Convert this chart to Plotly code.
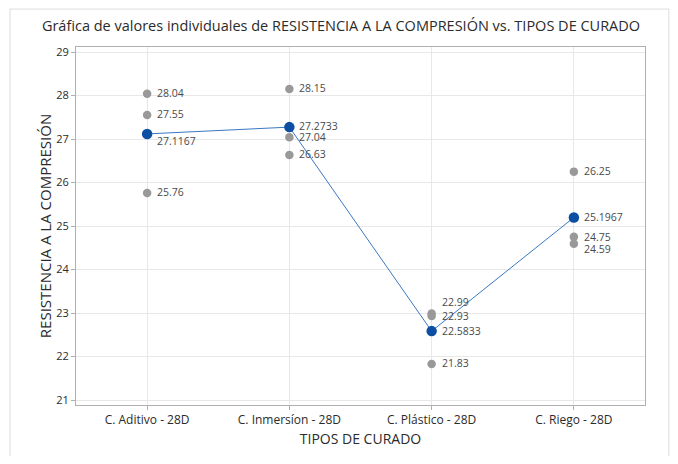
import plotly.graph_objects as go

categories = ["C. Aditivo - 28D", "C. Inmersíon - 28D", "C. Plástico - 28D", "C. Riego - 28D"]
individual_values = [
    [28.04, 27.55, 25.76],
    [28.15, 27.04, 26.63],
    [22.99, 22.93, 21.83],
    [26.25, 24.75, 24.59],
]
means = [27.1167, 27.2733, 22.5833, 25.1967]
mean_labels = ["27.1167", "27.2733", "22.5833", "25.1967"]
indiv_labels = [
    ["28.04", "27.55", "25.76"],
    ["28.15", "27.04", "26.63"],
    ["22.99", "22.93", "21.83"],
    ["26.25", "24.75", "24.59"],
]
y_ticks = [21, 22, 23, 24, 25, 26, 27, 28, 29]

# label pixel offsets (styling only)
indiv_shift = [[1, 1, 1], [1, 0, 1], [11, 0, 1], [1, 0, -5]]
mean_shift = [-7, 1, 0, 0]

FONT = "Open Sans"
fig = go.Figure()

xs, ys = [], []
for i, vals in enumerate(individual_values):
    for v in vals:
        xs.append(i)
        ys.append(v)
fig.add_trace(go.Scatter(x=xs, y=ys, mode="markers",
                         marker=dict(color="#999999", size=8.5),
                         showlegend=False, hoverinfo="y"))
fig.add_trace(go.Scatter(x=list(range(len(categories))), y=means, mode="lines+markers",
                         line=dict(color="#3A78C4", width=1),
                         marker=dict(color="#0B4EA2", size=10.5),
                         showlegend=False, hoverinfo="y"))

annotations = []
for i, vals in enumerate(individual_values):
    for j, v in enumerate(vals):
        annotations.append(dict(x=i, y=v, xref="x", yref="y", text=indiv_labels[i][j],
                                showarrow=False, xanchor="left", yanchor="middle",
                                xshift=8, yshift=indiv_shift[i][j],
                                font=dict(family=FONT, size=10.5, color="#4a4a4a")))
for i, m in enumerate(means):
    annotations.append(dict(x=i, y=m, xref="x", yref="y", text=mean_labels[i],
                            showarrow=False, xanchor="left", yanchor="middle",
                            xshift=8, yshift=mean_shift[i],
                            font=dict(family=FONT, size=10.5, color="#4a4a4a")))

fig.update_layout(
    width=662, height=448,
    margin=dict(l=68, r=25, t=39, b=49),
    paper_bgcolor="white", plot_bgcolor="white",
    font=dict(family=FONT, color="#333333"),
    title=dict(text="Gráfica de valores individuales de RESISTENCIA A LA COMPRESIÓN vs. TIPOS DE CURADO",
               x=0.503, xref="container", xanchor="center", y=0.96, yref="container", yanchor="middle",
               font=dict(family=FONT, size=14.5, color="#2b2b2b")),
    annotations=annotations,
    shapes=[dict(type="rect", xref="paper", yref="paper", x0=-0.116, x1=1.042, y0=-0.2, y1=1.106,
                 line=dict(color="#dddddd", width=1), fillcolor="rgba(0,0,0,0)", layer="below")],
)
fig.update_xaxes(
    tickmode="array", tickvals=list(range(len(categories))), ticktext=categories,
    range=[-0.5, 3.5], showgrid=True, gridcolor="#e8e8e8", gridwidth=1,
    showline=True, linecolor="#b0b0b0", linewidth=1, mirror=True,
    ticks="outside", ticklen=4, tickcolor="#b0b0b0",
    tickfont=dict(family=FONT, size=12, color="#2b2b2b"),
    title=dict(text="TIPOS DE CURADO", font=dict(family=FONT, size=14, color="#2b2b2b"), standoff=6),
    zeroline=False,
)
fig.update_yaxes(
    tickmode="array", tickvals=y_ticks, ticktext=[str(t) for t in y_ticks],
    range=[20.885, 29.115], showgrid=True, gridcolor="#e8e8e8", gridwidth=1,
    showline=True, linecolor="#b0b0b0", linewidth=1, mirror=True,
    ticks="outside", ticklen=4, tickcolor="#b0b0b0",
    tickfont=dict(family=FONT, size=11, color="#2b2b2b"),
    title=dict(text="RESISTENCIA A LA COMPRESIÓN", font=dict(family=FONT, size=15, color="#2b2b2b"), standoff=0),
    zeroline=False,
)

fig.write_html("out.html")
